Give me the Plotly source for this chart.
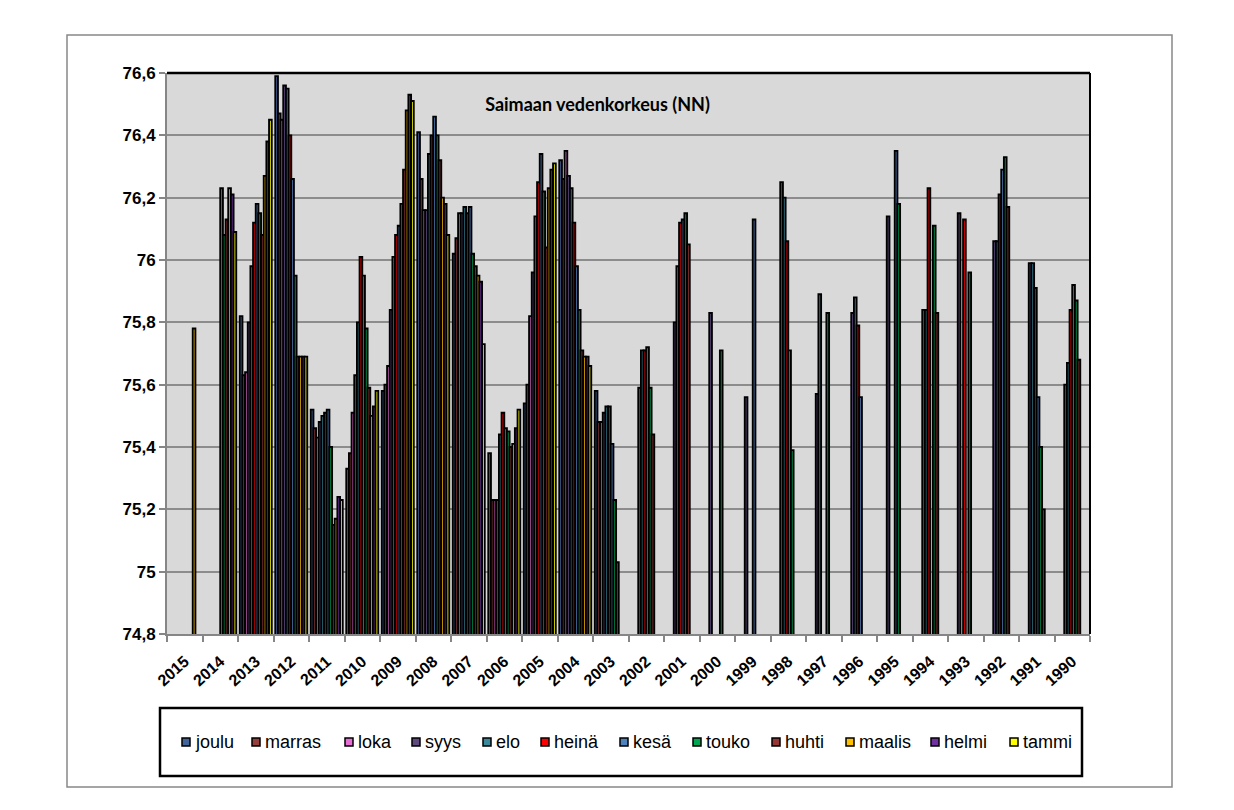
import plotly.graph_objects as go

N = None

years = ["2015", "2014", "2013", "2012", "2011", "2010", "2009", "2008", "2007",
         "2006", "2005", "2004", "2003", "2002", "2001", "2000", "1999", "1998",
         "1997", "1996", "1995", "1994", "1993", "1992", "1991", "1990"]

# water level per month, one value per year (None = no bar)
joulu = [N, N, 75.82, 76.59, 75.52, 75.33, 75.58, 76.41, 76.02, 75.38, 75.54, 76.32, 75.58] + [N] * 13
marras = [N, N, 75.63, 76.47, 75.46, 75.38, 75.60, 76.26, 76.07, 75.23, 75.60, 76.26, 75.48] + [N] * 13
loka = [N, N, 75.64, 76.45, 75.43, 75.51, 75.66, 76.16, 76.15, 75.23, 75.82, 76.35, 75.48] + [N] * 13
syys = [N, N, 75.80, 76.56, 75.48, 75.63, 75.84, 76.16, 76.15, 75.23, 75.96, 76.27, 75.51,
        75.59, 75.80, 75.83, 75.56, 76.25, 75.57, 75.83, 76.14, 75.84, 76.15, 76.06, 75.99, 75.60]
elo = [N, N, 75.98, 76.55, 75.50, 75.80, 76.01, 76.34, 76.17, 75.44, 76.14, 76.23, 75.53,
       75.71, 75.98, N, N, 76.20, 75.89, 75.88, N, 75.84, N, 76.06, 75.99, 75.67]
heina = [N, N, 76.12, 76.40, 75.51, 76.01, 76.08, 76.40, 76.15, 75.51, 76.25, 76.12, 75.53,
         75.71, 76.12, N, N, 76.06, N, 75.79, N, 76.23, 76.13, 76.21, 75.91, 75.84]
kesa = [N, 76.23, 76.18, 76.26, 75.52, 75.95, 76.11, 76.46, 76.17, 75.46, 76.34, 75.98, 75.41,
        75.72, 76.13, N, 76.13, 75.71, N, 75.56, 76.35, N, N, 76.29, 75.56, 75.92]
touko = [N, 76.08, 76.15, 75.95, 75.40, 75.78, 76.18, 76.40, 76.02, 75.45, 76.22, 75.84, 75.23,
         75.59, 76.15, 75.71, N, 75.39, 75.83, N, 76.18, 76.11, 75.96, 76.33, 75.40, 75.87]
huhti = [N, 76.13, 76.08, 75.69, 75.15, 75.59, 76.29, 76.32, 75.98, 75.40, 76.04, 75.71, 75.03,
         75.44, 76.05, N, N, N, N, N, N, 75.83, N, 76.17, 75.20, 75.68]
maalis = [75.78, 76.23, 76.27, 75.69, 75.17, 75.50, 76.48, 76.20, 75.95, 75.41, 76.23, 75.69] + [N] * 14
helmi = [N, 76.21, 76.38, 75.69, 75.24, 75.53, 76.53, 76.18, 75.93, 75.46, 76.29, 75.69] + [N] * 14
tammi = [N, 76.09, 76.45, 75.69, 75.23, 75.58, 76.51, 76.08, 75.73, 75.52, 76.31, 75.66] + [N] * 14

series = [
    ("joulu", joulu, "#41649B"),
    ("marras", marras, "#943F3B"),
    ("loka", loka, "#E66FD4"),
    ("syys", syys, "#5F4A80"),
    ("elo", elo, "#3A8A9C"),
    ("heinä", heina, "#FF0000"),
    ("kesä", kesa, "#4F81BD"),
    ("touko", touko, "#00A651"),
    ("huhti", huhti, "#943634"),
    ("maalis", maalis, "#FFC000"),
    ("helmi", helmi, "#7030A0"),
    ("tammi", tammi, "#FFFF00"),
]

ytick_vals = [74.8, 75.0, 75.2, 75.4, 75.6, 75.8, 76.0, 76.2, 76.4, 76.6]
ytick_text = ["74,8", "75", "75,2", "75,4", "75,6", "75,8", "76", "76,2", "76,4", "76,6"]

# page pixels -> paper coords (plot area is x 167..1090, y 73..634 on the page)
def px(x):
    return (x - 167) / 923.0

def py(y):
    return (634 - y) / 561.0

fig = go.Figure()
for name, vals, col in series:
    fig.add_trace(go.Bar(
        x=years, y=vals, name=name, showlegend=False,
        marker=dict(color=col, line=dict(color="black", width=1.9)),
    ))

shapes = [
    # outer chart border
    dict(type="rect", xref="paper", yref="paper", x0=px(67), x1=px(1172), y0=py(787), y1=py(35),
         line=dict(color="#888888", width=1.5), layer="below"),
    # legend frame
    dict(type="rect", xref="paper", yref="paper", x0=px(160), x1=px(1082), y0=py(776), y1=py(708),
         line=dict(color="black", width=2.5)),
    # plot area top and right border
    dict(type="line", xref="paper", yref="paper", x0=0, x1=1, y0=1, y1=1,
         line=dict(color="black", width=2.5)),
    dict(type="line", xref="paper", yref="paper", x0=1, x1=1, y0=0, y1=1,
         line=dict(color="black", width=2)),
]
annotations = []

# legend drawn by hand so it keeps Excel's tight one-row spacing
legend_left = [182, 252, 345, 412, 483, 541, 620, 693, 772, 846, 931, 1010]
for (name, vals, col), lx in zip(series, legend_left):
    shapes.append(dict(type="rect", xref="paper", yref="paper",
                       x0=px(lx), x1=px(lx + 8), y0=py(746), y1=py(738),
                       fillcolor=col, line=dict(color="black", width=1.5)))
    annotations.append(dict(text=name, xref="paper", yref="paper", x=px(lx + 11), y=py(742),
                            xanchor="left", yanchor="middle", showarrow=False,
                            font=dict(size=18, family="Liberation Sans, Arial, sans-serif",
                                      color="black")))

# figure sits 8px in from the page corner (body margin)
fig.update_layout(
    width=1218, height=794,
    margin=dict(l=159, r=136, t=65, b=168),
    paper_bgcolor="white",
    plot_bgcolor="#D9D9D9",
    barmode="group",
    bargap=0.1,
    bargroupgap=0,
    showlegend=False,
    font=dict(family="Liberation Sans, Arial, sans-serif", color="black"),
    title=dict(text="<b>Saimaan vedenkorkeus (NN)</b>", x=px(597.5), xref="paper",
               xanchor="center", y=py(105), yref="paper", yanchor="middle",
               font=dict(family="Lato, Open Sans, sans-serif", size=18, color="black")),
    shapes=shapes,
    annotations=annotations,
)

fig.update_xaxes(
    type="category", tickangle=-42, tickson="boundaries",
    ticks="outside", ticklen=6, tickcolor="#868686", tickwidth=2,
    showline=True, linecolor="#868686", linewidth=2,
    tickfont=dict(size=16, family="Liberation Sans, Arial, sans-serif", weight="bold"),
    ticklabelstandoff=10,
    showgrid=False,
)
fig.update_yaxes(
    range=[74.8, 76.6], tickvals=ytick_vals, ticktext=ytick_text,
    ticks="outside", ticklen=6, tickcolor="#868686", tickwidth=2,
    showline=True, linecolor="#868686", linewidth=2,
    showgrid=True, gridcolor="#8C8C8C", gridwidth=2,
    tickfont=dict(size=17, family="Liberation Sans, Arial, sans-serif", weight="bold"),
    zeroline=False,
)

fig.write_html("out.html")
